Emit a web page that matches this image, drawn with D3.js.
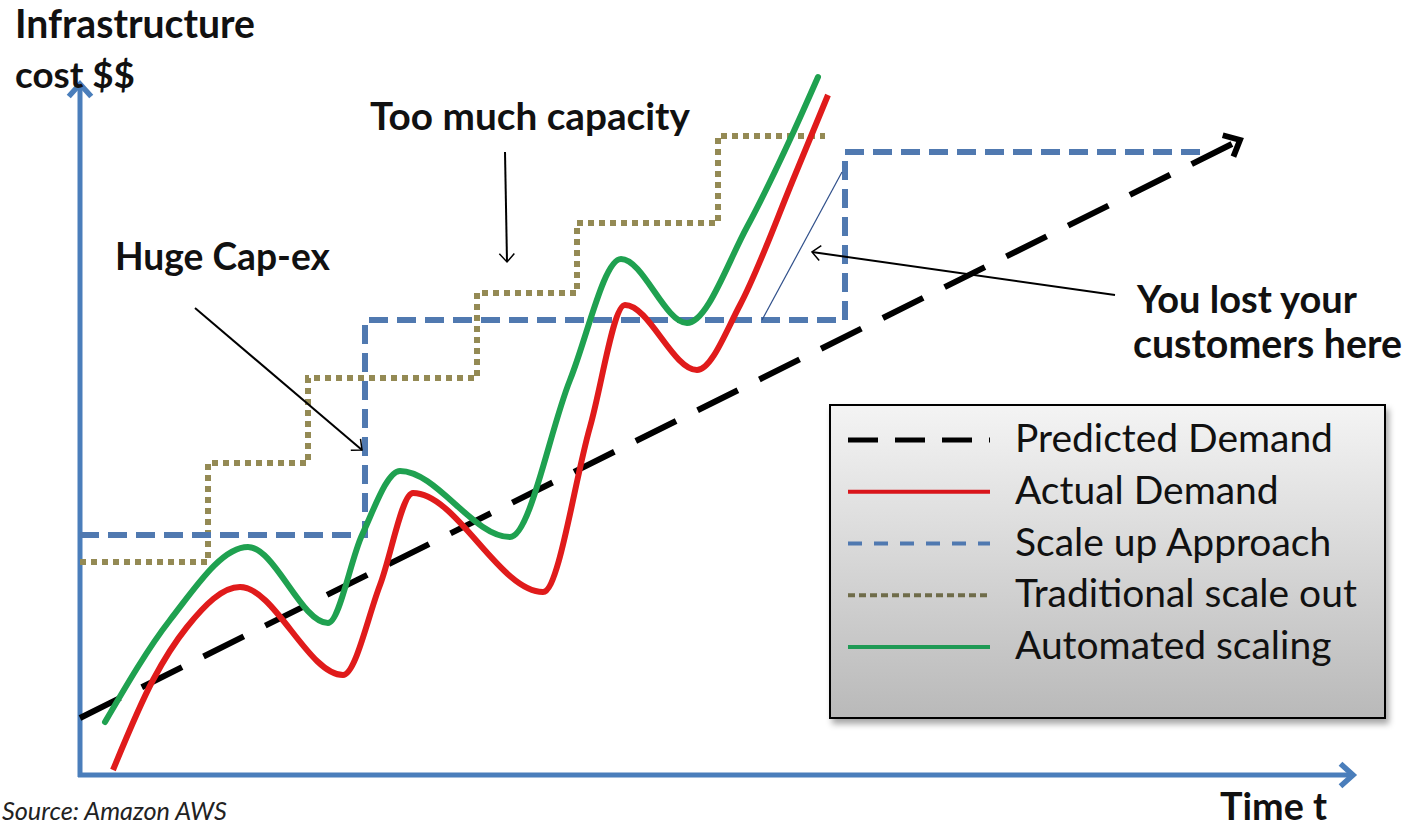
<!DOCTYPE html>
<html>
<head>
<meta charset="utf-8">
<script src="https://cdn.jsdelivr.net/npm/d3@7/dist/d3.min.js"></script>
<style>
  html, body { margin: 0; padding: 0; background: #fff; }
  svg { display: block; font-family: Lato, "Open Sans", sans-serif; }
</style>
</head>
<body>
<div id="chart"></div>
<script>
// values (time units, cost units)
const predictedDemand = [[0, 5.7], [116, 63.5]];

const actualDemand = [
  [3.3, 0.5], [7.3, 9.5], [10.7, 14.8], [16, 18.8], [26.3, 10], [30, 19],
  [33.3, 28.2], [46.3, 18.3], [51, 34.8], [54.5, 47], [61.7, 40.5],
  [66, 47], [71.5, 60], [74.8, 68]
];

const automatedScaling = [
  [2.5, 5.3], [9, 15.5], [16.8, 22.8], [24.8, 15.2], [28.2, 24], [32, 30.4],
  [43, 23.8], [49, 39.5], [54.1, 51.6], [60.7, 45.2], [66.7, 54.8],
  [71.3, 64.2], [73.8, 69.8]
];

const scaleUp = [[0, 24], [28.5, 45.5], [76.5, 62.3], [112, 62.3]];

const traditional = [
  [0, 21.3], [12.8, 31.2], [22.8, 39.7], [39.7, 48.2], [49.7, 55.2], [63.8, 63.9], [74.5, 63.9]
];

// annotation arrows: [from, to]
const capacityArrow = [[42.5, 62.3], [42.7, 51.3]];
const capexArrow = [[11.5, 46.7], [28.2, 32.5]];
const lostArrow = [[103.5, 48], [73.2, 52.3]];
const lostGap = [[68.2, 45.5], [76.2, 60.3]];

const legendNames = ["Predicted Demand", "Actual Demand", "Scale up Approach", "Traditional scale out", "Automated scaling"];

const W = 1407, H = 829;
const axisBlue = "#4a7ebb";

const svg = d3.select("#chart").append("svg").attr("width", W).attr("height", H);
const defs = svg.append("defs");

const x = d3.scaleLinear().domain([0, 128]).range([80, 1360]);
const y = d3.scaleLinear().domain([0, 70]).range([775, 75]);

// markers
function marker(id, color, size, width) {
  defs.append("marker")
    .attr("id", id)
    .attr("viewBox", "-2 -6 9 12")
    .attr("refX", 5).attr("refY", 0)
    .attr("markerUnits", "userSpaceOnUse")
    .attr("markerWidth", size * 0.75).attr("markerHeight", size)
    .attr("orient", "auto")
    .append("path")
    .attr("d", "M0,-4.5L5,0L0,4.5")
    .attr("fill", "none")
    .attr("stroke", color)
    .attr("stroke-width", width)
    .attr("stroke-linejoin", "miter");
}
marker("axisHead", axisBlue, 30, 2.2);
marker("predHead", "#000", 32, 2.2);
marker("thinHead", "#000", 20, 0.9);

// gradient + shadow for legend
const grad = defs.append("linearGradient").attr("id", "legGrad")
  .attr("x1", 0).attr("y1", 0).attr("x2", 0).attr("y2", 1);
grad.append("stop").attr("offset", "0%").attr("stop-color", "#f4f4f4");
grad.append("stop").attr("offset", "100%").attr("stop-color", "#b9b9b9");
const shadow = defs.append("filter").attr("id", "shadow")
  .attr("x", "-5%").attr("y", "-5%").attr("width", "115%").attr("height", "120%");
shadow.append("feDropShadow").attr("dx", 3).attr("dy", 5).attr("stdDeviation", 3)
  .attr("flood-color", "#000").attr("flood-opacity", 0.35);

const g = svg.append("g");

// axes
g.append("line")
  .attr("x1", x(0)).attr("y1", y(0) + 2).attr("x2", x(0)).attr("y2", y(69.1))
  .attr("stroke", axisBlue).attr("stroke-width", 5)
  .attr("marker-end", "url(#axisHead)");
g.append("line")
  .attr("x1", x(0) - 2).attr("y1", y(0)).attr("x2", x(127.3)).attr("y2", y(0))
  .attr("stroke", axisBlue).attr("stroke-width", 5)
  .attr("marker-end", "url(#axisHead)");

const smooth = d3.line().x(d => x(d[0])).y(d => y(d[1])).curve(d3.curveMonotoneX);
const step = d3.line().x(d => x(d[0])).y(d => y(d[1])).curve(d3.curveStepAfter);
const straight = d3.line().x(d => x(d[0])).y(d => y(d[1]));

// traditional scale out (dotted olive)
g.append("path").datum(traditional).attr("d", step)
  .attr("fill", "none").attr("stroke", "#948a54").attr("stroke-width", 6)
  .attr("stroke-dasharray", "6,5");

// scale up approach (dashed blue)
g.append("path").datum(scaleUp).attr("d", step)
  .attr("fill", "none").attr("stroke", "#5079b0").attr("stroke-width", 6)
  .attr("stroke-dasharray", "19,9");

// thin line marking lost customers
g.append("path").datum(lostGap).attr("d", straight)
  .attr("fill", "none").attr("stroke", "#2f4f8a").attr("stroke-width", 1.2);

// predicted demand
g.append("path").datum(predictedDemand).attr("d", straight)
  .attr("fill", "none").attr("stroke", "#000").attr("stroke-width", 6)
  .attr("stroke-dasharray", "45,24")
  .attr("marker-end", "url(#predHead)");

// actual demand
g.append("path").datum(actualDemand).attr("d", smooth)
  .attr("fill", "none").attr("stroke", "#e01b1b").attr("stroke-width", 6);

// automated scaling
g.append("path").datum(automatedScaling).attr("d", smooth)
  .attr("fill", "none").attr("stroke", "#1fa150").attr("stroke-width", 6)
  .attr("stroke-linecap", "round");

// annotation arrows
[capacityArrow, capexArrow, lostArrow].forEach(a => {
  g.append("path").datum(a).attr("d", straight)
    .attr("fill", "none").attr("stroke", "#000").attr("stroke-width", 2)
    .attr("marker-end", "url(#thinHead)");
});

// text helper: fit a text to the width it has in the picture
function label(txt, x0, base, width, weight, style, anchor) {
  const t = svg.append("text")
    .attr("x", x0).attr("y", base)
    .attr("font-size", 40)
    .attr("font-weight", weight || "bold")
    .attr("font-style", style || "normal")
    .attr("text-anchor", anchor || "start")
    .attr("fill", "#111")
    .text(txt);
  const len = t.node().getComputedTextLength();
  t.attr("font-size", 40 * width / len);
  return t;
}

label("Infrastructure", 15, 38, 240);
label("cost $$", 15, 88, 120);
label("Too much capacity", 370, 130, 320);
label("Huge Cap-ex", 115, 270, 215);
label("You lost your", 1137, 313, 220);
label("customers here", 1133, 358, 269);
label("Time t", 1220, 820, 107);
label("Source: Amazon AWS", 2, 820, 225, "normal", "italic").attr("fill", "#222");

// legend
const leg = svg.append("g");
leg.append("rect")
  .attr("x", 830).attr("y", 405).attr("width", 555).attr("height", 313)
  .attr("fill", "url(#legGrad)").attr("stroke", "#000").attr("stroke-width", 2)
  .attr("filter", "url(#shadow)");

const legStyles = [
  { color: "#000", dash: "30,17", w: 5 },
  { color: "#d9151b", dash: null, w: 4 },
  { color: "#5079b0", dash: "14,12", w: 4 },
  { color: "#6f6c4a", dash: "7,4", w: 4 },
  { color: "#1f9a55", dash: null, w: 4 }
];
const legRow = d3.scaleLinear().domain([0, 4]).range([440, 647]);

legendNames.forEach((name, i) => {
  const s = legStyles[i];
  leg.append("line")
    .attr("x1", 848).attr("x2", 990)
    .attr("y1", legRow(i)).attr("y2", legRow(i))
    .attr("stroke", s.color).attr("stroke-width", s.w)
    .attr("stroke-dasharray", s.dash);
  leg.append("text")
    .attr("x", 1015).attr("y", legRow(i) + 12)
    .attr("font-size", 33)
    .attr("fill", "#111")
    .text(name);
});

// size legend text so "Predicted Demand" spans as in the picture
const legTexts = leg.selectAll("text");
const firstLen = legTexts.nodes()[0].getComputedTextLength();
legTexts.attr("font-size", 33 * 318 / firstLen);
</script>
</body>
</html>
